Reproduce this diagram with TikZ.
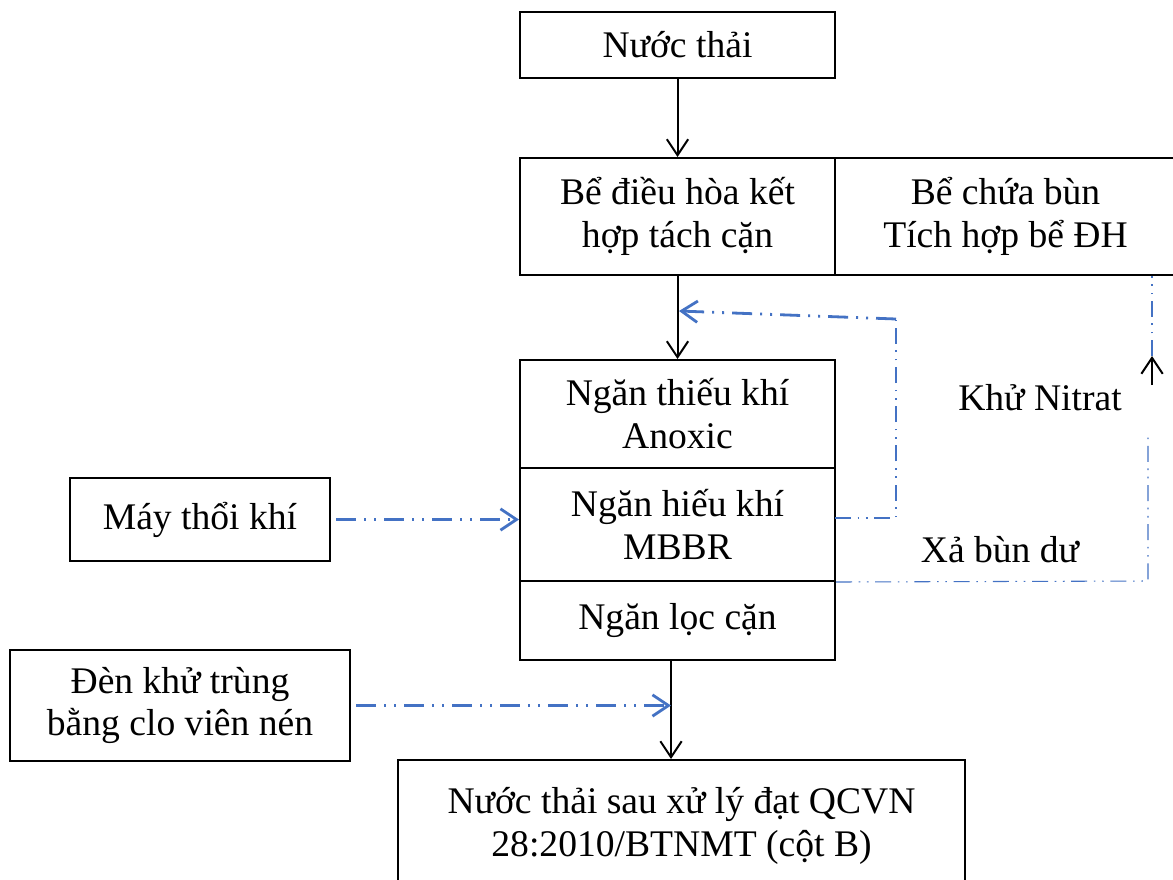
\documentclass[tikz,border=0pt]{standalone}
\usepackage{fontspec}
\setmainfont{Liberation Serif}
\usetikzlibrary{arrows.meta}
\definecolor{lineblue}{RGB}{68,114,196}
\tikzset{
  box/.style={draw, line width=1.5pt, align=center, inner sep=0pt,
    font=\fontsize{28.2}{32.2}\selectfont},
  lbl/.style={inner sep=0pt, font=\fontsize{28.2}{32.2}\selectfont},
  arr/.style={draw, line width=1.5pt, -{Straight Barb[length=12pt,width=16pt]}},
  bthick/.style={draw=lineblue, line width=2.1pt,
    dash pattern=on 15pt off 6pt on 1.5pt off 6pt on 1.5pt off 6pt},
  bthin/.style={draw=lineblue, line width=0.8pt,
    dash pattern=on 12pt off 5pt on 1.2pt off 5pt on 1.2pt off 5pt},
  barrow/.style={-{Straight Barb[length=12pt,width=16pt]}}
}
\begin{document}
\begin{tikzpicture}[x=0.75pt,y=-0.75pt]
\useasboundingbox (0,0) rectangle (1173,879);
\fill[white] (0,0) rectangle (1173,879);

% boxes
\node[box, minimum width=236.25pt, minimum height=49.5pt] (nt) at (677.5,45) {Nước thải};
\node[box, minimum width=236.25pt, minimum height=87.75pt] (dh) at (677.5,216.5) {Bể điều hòa kết\\hợp tách cặn};
\node[box, minimum width=255.75pt, minimum height=87.75pt] (bun) at (1005.5,216.5) {Bể chứa bùn\\Tích hợp bể ĐH};
\node[box, minimum width=236.25pt, minimum height=81pt] (anox) at (677.5,414) {Ngăn thiếu khí\\Anoxic};
\node[box, minimum width=236.25pt, minimum height=84.75pt] (mbbr) at (677.5,524.5) {Ngăn hiếu khí\\MBBR};
\node[box, minimum width=236.25pt, minimum height=59.25pt] (loc) at (677.5,620.5) {Ngăn lọc cặn};
\node[box, minimum width=195pt, minimum height=62.25pt] (may) at (200,519.5) {Máy thổi khí};
\node[box, minimum width=255pt, minimum height=83.25pt] (den) at (180,705.5) {Đèn khử trùng\\bằng clo viên nén};
\node[box, minimum width=425.25pt, minimum height=99pt] (out) at (681.5,826) {Nước thải sau xử lý đạt QCVN\\28:2010/BTNMT (cột B)};

% labels
\node[lbl] (kn) at (1040,398) {Khử Nitrat};
\node[lbl] (xb) at (1000,550) {Xả bùn dư};

% main flow
\draw[arr] (nt) -- (dh);
\draw[arr] (dh) -- (anox);
\coordinate (xo) at (671,700);
\draw[arr] (xo |- loc.south) -- (xo |- out.north);

% air and chlorine inputs
\draw[bthick, barrow, shorten <=3.75pt] (may.east) -- (may.east -| mbbr.west);
\draw[bthick, barrow, shorten <=3.75pt] (den.east) -- (den.east -| xo);

% internal recirculation
\coordinate (ra) at (835,518);
\coordinate (rb) at (896,518);
\coordinate (rc) at (896,319);
\coordinate (rd) at (679,311);
\draw[bthin] (ra) -- (rb) -- (rc);
\draw[bthick, barrow] (rc) -- (rd);

% excess sludge
\coordinate (sb) at (1148,581);
\coordinate (sc) at (1148,437);
\draw[bthin] (mbbr.south east) -- (sb) -- (sc);
\coordinate (ka) at (1152,385);
\coordinate (kb) at (1152,356);
\draw[arr] (ka) -- (kb);
\draw[bthin] (kb) -- (kb |- bun.south);
\end{tikzpicture}
\end{document}
